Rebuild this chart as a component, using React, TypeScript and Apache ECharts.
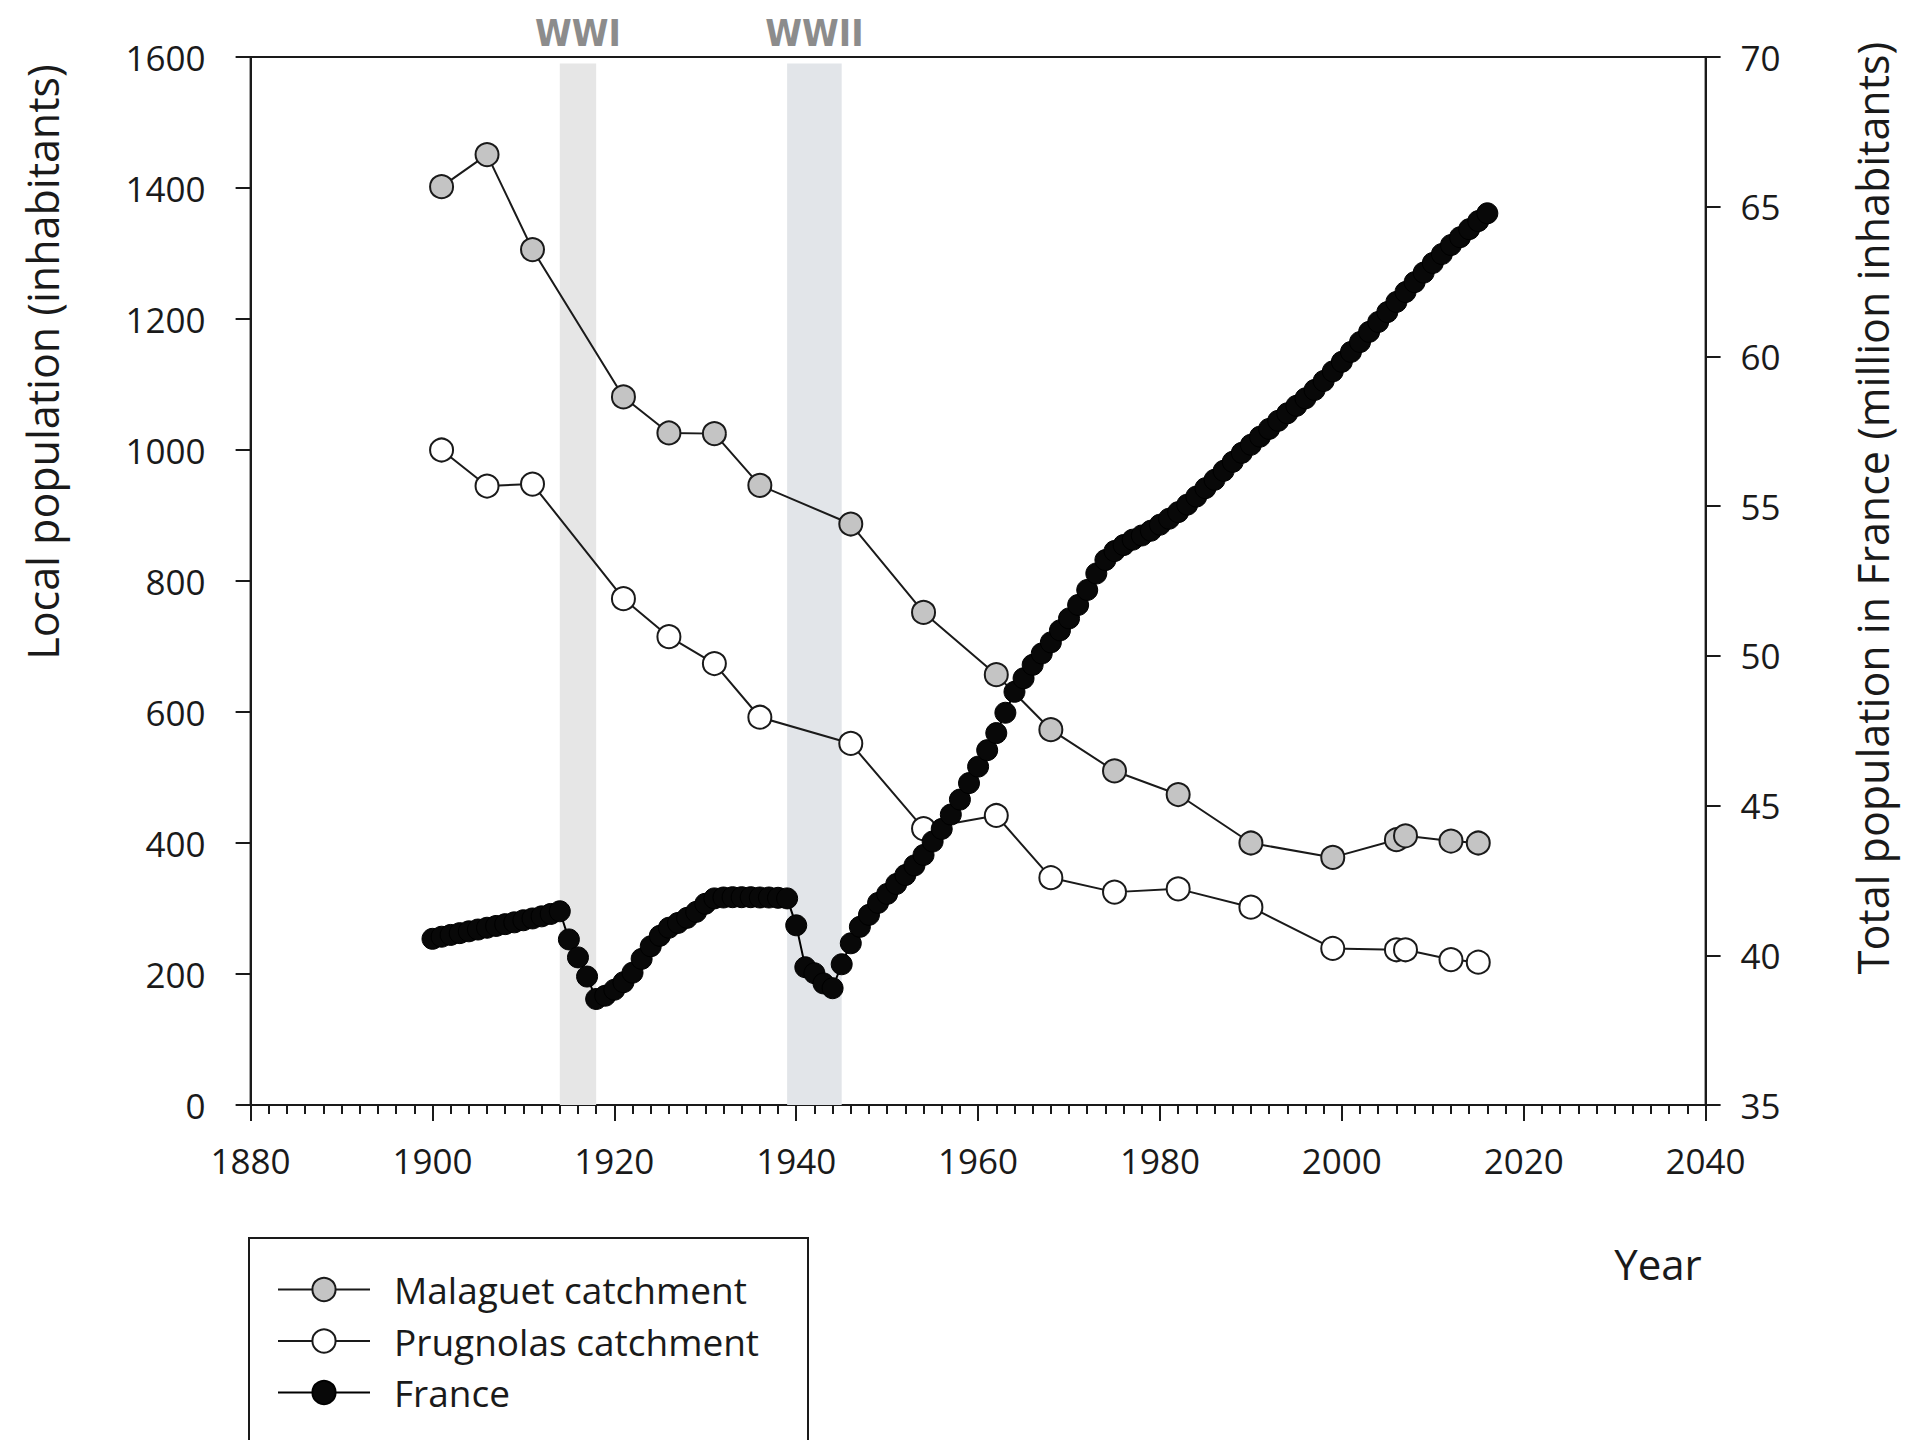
import React, { useEffect, useRef } from 'react';
import * as echarts from 'echarts';

// Census years of the two catchments
const CENSUS_YEARS = [1901, 1906, 1911, 1921, 1926, 1931, 1936, 1946, 1954, 1962, 1968, 1975, 1982, 1990, 1999, 2006, 2007, 2012, 2015];
const MALAGUET = [1402, 1451, 1306, 1081, 1026, 1025, 946, 887, 752, 657, 573, 510, 474, 400, 378, 405, 411, 403, 400];
const PRUGNOLAS = [1000, 945, 948, 773, 715, 674, 592, 552, 422, 442, 347, 325, 330, 302, 239, 237, 237, 222, 218];

// France total population (million inhabitants), yearly
const FRANCE_YEARS = [
  1900, 1901, 1902, 1903, 1904, 1905, 1906, 1907, 1908, 1909,
  1910, 1911, 1912, 1913, 1914, 1915, 1916, 1917, 1918, 1919,
  1920, 1921, 1922, 1923, 1924, 1925, 1926, 1927, 1928, 1929,
  1930, 1931, 1932, 1933, 1934, 1935, 1936, 1937, 1938, 1939,
  1940, 1941, 1942, 1943, 1944, 1945, 1946, 1947, 1948, 1949,
  1950, 1951, 1952, 1953, 1954, 1955, 1956, 1957, 1958, 1959,
  1960, 1961, 1962, 1963, 1964, 1965, 1966, 1967, 1968, 1969,
  1970, 1971, 1972, 1973, 1974, 1975, 1976, 1977, 1978, 1979,
  1980, 1981, 1982, 1983, 1984, 1985, 1986, 1987, 1988, 1989,
  1990, 1991, 1992, 1993, 1994, 1995, 1996, 1997, 1998, 1999,
  2000, 2001, 2002, 2003, 2004, 2005, 2006, 2007, 2008, 2009,
  2010, 2011, 2012, 2013, 2014, 2015, 2016,
];
const FRANCE = [
  40.55, 40.62, 40.68, 40.74, 40.80, 40.86, 40.92, 40.98, 41.04, 41.10,
  41.17, 41.23, 41.30, 41.38, 41.47, 40.53, 39.93, 39.29, 38.54, 38.65,
  38.85, 39.10, 39.42, 39.88, 40.30, 40.65, 40.92, 41.08, 41.25, 41.45,
  41.72, 41.90, 41.93, 41.94, 41.94, 41.94, 41.93, 41.93, 41.92, 41.90,
  41.00, 39.60, 39.40, 39.06, 38.90, 39.70, 40.40, 40.95, 41.35, 41.75,
  42.05, 42.38, 42.68, 43.00, 43.35, 43.80, 44.22, 44.70, 45.20, 45.75,
  46.30, 46.85, 47.42, 48.10, 48.80, 49.25, 49.70, 50.08, 50.45, 50.85,
  51.25, 51.70, 52.20, 52.75, 53.20, 53.50, 53.70, 53.88, 54.02, 54.18,
  54.38, 54.58, 54.80, 55.05, 55.32, 55.60, 55.88, 56.18, 56.48, 56.78,
  57.05, 57.32, 57.58, 57.85, 58.10, 58.35, 58.60, 58.88, 59.18, 59.50,
  59.82, 60.15, 60.48, 60.82, 61.15, 61.48, 61.82, 62.15, 62.48, 62.80,
  63.12, 63.42, 63.72, 63.98, 64.25, 64.52, 64.78,
];

// War periods
const WARS = [
  { name: 'WWI', start: 1914, end: 1918 },
  { name: 'WWII', start: 1939, end: 1945 },
];
const WAR_COLORS = ['#e6e6e6', '#e2e5e9'];

const SERIES_NAMES = ['Malaguet catchment', 'Prugnolas catchment', 'France'];

export default function App() {
  const ref = useRef<HTMLDivElement>(null);

  useEffect(() => {
    document.body.style.margin = '0';
    document.body.style.overflow = 'hidden';
    const chart = echarts.init(ref.current as HTMLDivElement, null, { renderer: 'svg' });
    const ink = '#1a1a1a';
    const font = "'Open Sans', 'Noto Sans', sans-serif";
    const narrow = "'Liberation Sans Narrow', 'DejaVu Sans Condensed', 'Roboto', sans-serif";
    const plain = (v: number) => String(v);

    const zip = (xs: number[], ys: number[]) => xs.map((x, i) => [x, ys[i]]);

    const axisLine = { show: true, onZero: false, lineStyle: { color: ink, width: 2 } };

    const option = {
      animation: false,
      backgroundColor: '#ffffff',
      textStyle: { fontFamily: font, color: ink },
      grid: {
        left: 250.6,
        right: 211.4,
        top: 57,
        bottom: 335,
        show: true,
        borderColor: ink,
        borderWidth: 2,
        backgroundColor: 'transparent',
      },
      xAxis: {
        type: 'value',
        min: 1880,
        max: 2040,
        interval: 20,
        axisLine,
        axisTick: { show: true, length: 16, lineStyle: { color: ink, width: 2 } },
        minorTick: { show: true, splitNumber: 10, length: 9, lineStyle: { color: ink, width: 2 } },
        splitLine: { show: false },
        axisLabel: { fontSize: 35, color: ink, margin: 38, fontFamily: font, formatter: plain },
      },
      yAxis: [
        {
          type: 'value',
          min: 0,
          max: 1600,
          interval: 200,
          position: 'left',
          axisLine,
          axisTick: { show: true, length: 15, lineStyle: { color: ink, width: 2 } },
          splitLine: { show: false },
          axisLabel: { fontSize: 35, color: ink, margin: 45, fontFamily: font, formatter: plain },
        },
        {
          type: 'value',
          min: 35,
          max: 70,
          interval: 5,
          position: 'right',
          axisLine,
          axisTick: { show: true, length: 15, lineStyle: { color: ink, width: 2 } },
          splitLine: { show: false },
          axisLabel: { fontSize: 35, color: ink, margin: 35, fontFamily: font, formatter: plain },
        },
      ],
      legend: {
        data: SERIES_NAMES,
        orient: 'vertical',
        left: 277,
        top: 1271,
        padding: 0,
        itemWidth: 92,
        itemHeight: 29,
        itemGap: 14.5,
        selectedMode: false,
        textStyle: { fontSize: 37, color: ink, fontFamily: font, padding: [0, 0, 0, 19] },
      },
      graphic: [
        {
          type: 'text',
          x: 42,
          y: 362,
          rotation: Math.PI / 2,
          style: {
            text: 'Local population (inhabitants)',
            fontSize: 43,
            fontFamily: font,
            fill: ink,
            align: 'center',
            verticalAlign: 'middle',
            textAlign: 'center',
            textVerticalAlign: 'middle',
          },
        },
        {
          type: 'text',
          x: 1872,
          y: 508,
          rotation: Math.PI / 2,
          style: {
            text: 'Total population in France (million inhabitants)',
            fontSize: 43,
            fontFamily: font,
            fill: ink,
            align: 'center',
            verticalAlign: 'middle',
            textAlign: 'center',
            textVerticalAlign: 'middle',
          },
        },
        {
          type: 'text',
          x: 1658,
          y: 1263,
          style: {
            text: 'Year',
            fontSize: 42,
            fontFamily: font,
            fill: ink,
            align: 'center',
            verticalAlign: 'middle',
            textAlign: 'center',
            textVerticalAlign: 'middle',
          },
        },
        {
          type: 'rect',
          shape: { x: 249, y: 1238, width: 559, height: 400 },
          style: { fill: 'none', stroke: ink, lineWidth: 2 },
          silent: true,
        },
      ],
      series: [
        {
          name: SERIES_NAMES[0],
          type: 'line',
          xAxisIndex: 0,
          yAxisIndex: 0,
          data: zip(CENSUS_YEARS, MALAGUET),
          symbol: 'circle',
          symbolSize: 23,
          clip: false,
          z: 3,
          itemStyle: { color: '#c4c4c4', borderColor: ink, borderWidth: 2 },
          lineStyle: { color: ink, width: 2 },
          markArea: {
            silent: true,
            label: {
              show: true,
              position: 'top',
              distance: 12,
              color: '#8c8c8c',
              fontSize: 37,
              fontWeight: 'bold',
              fontFamily: narrow,
            },
            data: WARS.map((w, i) => [
              { name: w.name, xAxis: w.start, yAxis: 1590, itemStyle: { color: WAR_COLORS[i] } },
              { xAxis: w.end, yAxis: 0 },
            ]),
          },
        },
        {
          name: SERIES_NAMES[1],
          type: 'line',
          xAxisIndex: 0,
          yAxisIndex: 0,
          data: zip(CENSUS_YEARS, PRUGNOLAS),
          symbol: 'circle',
          symbolSize: 23,
          z: 3,
          itemStyle: { color: '#ffffff', borderColor: ink, borderWidth: 2 },
          lineStyle: { color: ink, width: 2 },
        },
        {
          name: SERIES_NAMES[2],
          type: 'line',
          xAxisIndex: 0,
          yAxisIndex: 1,
          data: zip(FRANCE_YEARS, FRANCE),
          symbol: 'circle',
          symbolSize: 21,
          z: 4,
          itemStyle: { color: '#080808', borderColor: '#000000', borderWidth: 1 },
          lineStyle: { color: '#000000', width: 2 },
        },
      ],
    };

    chart.setOption(option as any);
    return () => {
      chart.dispose();
    };
  }, []);

  return <div ref={ref} style={{ width: 1917, height: 1440 }} />;
}
